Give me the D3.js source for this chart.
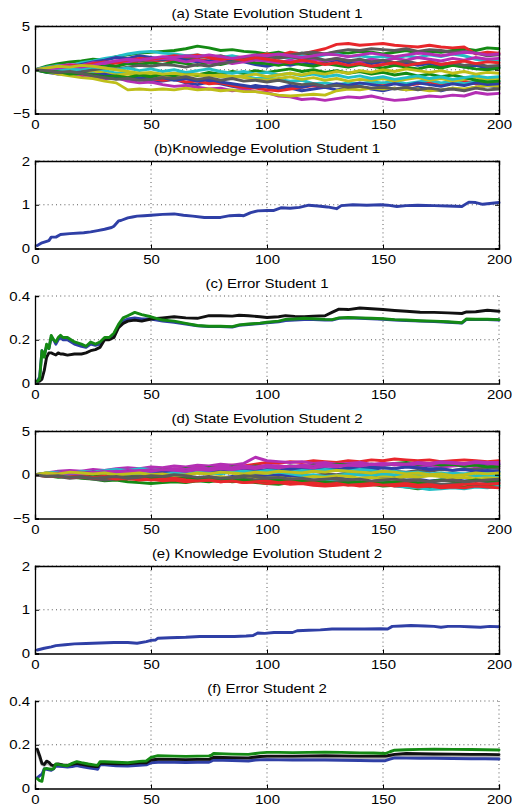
<!DOCTYPE html>
<html>
<head>
<meta charset="utf-8">
<script src="https://cdn.jsdelivr.net/npm/d3@7"></script>
<style>
  body { margin: 0; background: #fff; }
  text { font-family: "Liberation Sans", Arial, Helvetica, sans-serif; fill: #000; }
</style>
</head>
<body>
<svg id="fig" width="512" height="809"></svg>
<script>
// ---- data -------------------------------------------------------------
const titles = [
  "(a) State Evolution Student 1",
  "(b)Knowledge Evolution Student 1",
  "(c) Error Student 1",
  "(d) State Evolution Student 2",
  "(e) Knowledge Evolution Student 2",
  "(f) Error Student 2"
];
const xTicks = [0, 50, 100, 150, 200];
const stateTicks = [-5, 0, 5];
const knowTicks = [0, 1, 2];
const errTicks = [0, 0.2, 0.4];

// state trajectories sampled every 5 iterations (0..200)
const stateSteps = d3.range(0, 201, 5);
const stateColors = ["#2f3fa6", "#148a14", "#e8262b", "#24bfc6", "#b42eb4", "#bfbf1a", "#5a5a5a"];

const stateS1 = [
  [0,-0.3,-0.5,-0.4,-0.8,-0.6,-1.0,-0.9,-1.2,-1.0, -1.4,-1.3,-1.1,-1.5,-1.7,-1.4,-1.6,-1.9,-2.1,-1.8, -2.0,-2.3,-2.1,-2.4,-2.2,-2.0,-2.3,-2.1,-1.9,-2.2, -2.4,-2.1,-2.3,-2.0,-2.2,-2.4,-2.1,-2.3,-2.0,-1.8, -2.0],
  [0,0.4,0.7,0.9,1.0,1.2,1.1,1.5,1.7,1.9, 2.0,2.1,2.2,2.4,2.7,2.5,2.2,2.3,2.1,2.0, 1.8,2.0,1.7,1.9,1.6,1.8,2.0,1.9,2.1,2.0, 1.8,2.0,2.2,1.9,2.1,2.0,2.2,2.4,2.2,2.5, 2.4],
  [0,0.2,0.1,0.4,0.3,0.6,0.5,0.8,0.7,1.0, 0.9,1.1,1.0,1.3,1.2,1.0,1.3,1.5,1.4,1.6, 1.8,1.6,2.0,1.8,2.1,2.4,2.9,3.0,2.8,2.9, 3.0,2.8,2.7,2.6,2.8,2.6,2.5,2.6,1.8,2.0, 1.9],
  [0,0.3,0.5,0.4,0.8,1.0,1.3,1.5,1.8,2.0, 2.1,1.9,1.8,1.6,1.7,1.5,1.4,1.6,1.3,1.4, 1.2,1.5,1.3,1.6,1.4,1.7,1.8,1.5,1.6,1.4, 1.5,1.3,1.6,1.4,1.7,1.5,1.8,1.6,1.2,1.0, 1.1],
  [0,-0.2,-0.4,-0.3,-0.6,-0.8,-1.0,-0.9,-1.3,-1.5, -1.4,-1.7,-1.9,-1.8,-2.0,-2.2,-2.1,-2.4,-2.2,-2.5, -2.6,-3.0,-3.1,-3.4,-3.3,-3.5,-3.3,-3.1,-3.2,-3.0, -3.3,-3.5,-3.4,-3.2,-3.0,-3.1,-2.9,-3.0,-2.6,-2.8, -2.7],
  [0,-0.2,-0.5,-0.7,-0.9,-1.0,-1.3,-1.5,-2.3,-2.2, -2.3,-2.2,-2.3,-2.1,-2.3,-2.2,-2.4,-2.3,-2.5,-2.5, -2.7,-2.9,-3.0,-2.9,-2.8,-2.9,-2.4,-2.2,-2.3,-2.1, -2.2,-2.1,-2.3,-2.2,-2.4,-2.3,-2.1,-2.2,-2.0,-1.8, -1.9],
  [0,0.1,0.3,0.2,0.5,0.7,0.6,0.9,1.1,1.0, 1.2,1.1,1.4,1.3,1.5,1.4,1.6,1.2,1.4,1.3, 1.5,1.4,1.7,1.9,2.0,1.8,2.1,2.3,2.2,2.4, 2.3,2.2,2.4,2.1,2.3,2.2,2.0,2.1,1.9,1.6, 1.7],
  [0,0.2,0.4,0.3,0.6,0.9,1.1,1.4,1.3,1.6, 1.4,1.2,1.3,1.1,0.9,1.0,0.8,1.1,0.9,0.6, 0.4,0.7,0.5,0.8,0.6,0.9,1.1,0.8,1.0,0.7, 0.9,0.6,0.8,0.5,0.7,0.4,0.6,0.3,0.5,0.2, 0.3],
  [0,-0.1,0.2,0.1,0.3,0.2,0.5,0.4,0.7,0.6, 0.8,0.6,0.9,0.7,0.5,0.8,0.6,0.9,1.0,0.8, 0.7,0.5,0.8,0.6,0.4,0.7,0.5,0.3,0.6,0.4, 0.2,0.5,0.3,0.1,0.4,0.2,0.5,0.3,0.1,0.0, 0.2],
  [0,-0.1,-0.3,-0.2,-0.5,-0.4,-0.7,-0.6,-0.9,-0.8, -1.0,-1.2,-1.1,-1.4,-1.3,-1.6,-1.5,-1.8,-2.0,-2.1, -2.3,-2.4,-2.2,-2.0,-1.8,-1.9,-1.7,-1.8,-1.6,-1.5, -1.7,-1.5,-1.8,-1.6,-1.4,-1.7,-1.5,-1.3,-1.6,-1.4, -1.5],
  [0,0.1,-0.1,0.2,0.0,-0.2,-0.1,-0.4,-0.3,-0.5, -0.4,-0.6,-0.5,-0.3,-0.5,-0.7,-0.6,-0.8,-0.7,-1.0, -0.9,-1.1,-1.3,-1.2,-1.6,-1.5,-1.7,-1.5,-1.6,-1.4, -1.5,-1.3,-1.6,-1.4,-1.2,-1.5,-1.3,-1.6,-1.4,-1.2, -1.3],
  [0,0.2,0.4,0.6,0.5,0.8,0.7,1.0,0.9,1.2, 1.1,1.3,1.2,0.9,1.1,0.8,1.0,0.7,0.9,1.1, 1.0,0.8,1.1,0.9,1.2,1.0,1.3,1.1,0.9,1.2, 1.0,1.3,1.1,1.4,1.2,1.0,1.3,1.1,1.4,1.2, 1.3],
  [0,-0.1,0.1,-0.2,-0.3,-0.1,-0.4,-0.6,-0.5,-0.7, -0.6,-0.8,-0.7,-0.5,-0.7,-0.6,-0.8,-0.7,-0.9,-1.1, -1.2,-1.0,-0.8,-1.1,-0.9,-1.2,-1.0,-1.3,-1.1,-1.2, -1.0,-1.3,-1.1,-0.9,-1.2,-1.0,-1.3,-1.1,-0.9,-1.1, -1.0],
  [0,-0.2,-0.1,-0.3,-0.2,0.0,0.2,0.1,0.3,0.5, 0.4,0.6,0.5,0.3,0.6,0.4,0.7,0.9,1.2,1.4, 1.6,1.3,1.5,1.2,1.4,1.1,1.3,1.0,1.2,0.9, 1.1,0.8,1.0,0.7,0.9,0.6,0.8,0.5,0.7,0.4, 0.5],
  [0,-0.2,-0.3,-0.1,-0.4,-0.6,-0.5,-0.8,-1.0,-0.9, -1.1,-0.9,-1.2,-1.0,-1.3,-1.1,-1.4,-1.6,-1.8,-2.0, -1.9,-2.1,-1.8,-2.0,-1.7,-1.9,-1.6,-1.8,-1.5,-1.7, -1.9,-1.6,-1.8,-1.5,-1.7,-1.9,-1.6,-1.8,-1.5,-1.7, -1.6],
  [0,-0.3,-0.2,-0.5,-0.4,-0.6,-0.8,-0.7,-0.9,-0.6, -0.8,-0.5,-0.7,-0.4,-0.6,-0.3,-0.5,-0.2,-0.4,-0.1, -0.3,-0.1,0.1,-0.2,0.0,-0.3,-0.1,-0.4,-0.2,-0.5, -0.3,-0.6,-0.4,-0.7,-0.5,-0.8,-0.6,-0.9,-1.2,-1.4, -1.3],
  [0,0.1,0.3,0.5,0.4,0.7,0.9,0.8,1.1,1.3, 1.2,1.4,1.6,1.5,1.7,1.4,1.2,1.3,1.1,1.4, 1.2,1.0,0.8,1.1,0.9,0.6,0.8,0.5,0.7,0.4, 0.6,0.8,0.5,0.7,0.9,0.6,0.8,1.0,0.7,0.9, 0.8],
  [0,0.2,0.1,-0.1,0.1,0.3,0.2,0.0,0.2,-0.1, 0.1,-0.2,0.0,-0.3,-0.1,0.1,-0.2,-0.4,-0.2,-0.5, -0.3,-0.6,-0.4,-0.7,-0.5,-0.8,-0.6,-0.9,-0.7,-1.0, -0.8,-1.1,-0.9,-0.7,-1.0,-0.8,-1.1,-0.9,-0.7,-0.9, -0.8],
  [0,0.1,0.2,0.4,0.3,0.5,0.8,1.0,1.2,1.1, 1.3,1.5,1.4,1.6,1.5,1.7,1.5,1.3,1.5,1.7, 1.6,1.8,1.6,1.4,1.6,1.8,1.7,1.5,1.7,1.9, 1.7,1.5,1.7,1.9,1.8,1.6,1.8,2.0,1.9,1.7, 1.8],
  [0,0.2,0.4,0.3,0.5,0.4,0.2,0.0,-0.2,-0.4, -0.3,-0.5,-0.4,-0.6,-0.5,-0.7,-0.6,-0.8,-0.7,-0.5, -0.8,-0.6,-0.4,-0.6,-0.3,-0.5,-0.2,-0.4,-0.1,-0.3, 0.0,-0.2,0.1,-0.1,-0.3,-0.1,-0.4,-0.2,-0.5,-0.3, -0.4],
  [0,-0.1,-0.3,-0.2,-0.4,-0.7,-0.9,-1.1,-1.0,-1.2, -1.1,-0.9,-1.0,-0.8,-1.1,-0.9,-1.2,-1.0,-1.3,-1.2, -1.4,-1.2,-1.5,-1.7,-1.6,-1.9,-1.8,-2.0,-1.9,-2.1, -2.0,-2.2,-2.0,-2.3,-2.1,-2.3,-2.2,-2.4,-2.1,-2.3, -2.2]
];

const stateS2 = [
  [0,0.1,0.2,0.1,0.3,0.2,0.4,0.3,0.2,0.4, 0.3,0.5,0.4,0.6,0.5,0.7,0.6,0.5,0.7,0.6, 0.4,0.6,0.5,0.3,0.5,0.4,0.6,0.5,0.7,0.6, 0.8,0.7,0.9,0.8,1.0,0.9,1.1,1.0,1.2,1.1, 1.2],
  [0,-0.1,-0.3,-0.2,-0.4,-0.5,-0.7,-0.6,-0.8,-0.9, -1.0,-0.9,-0.8,-0.9,-0.7,-0.8,-0.6,-0.8,-0.7,-0.9, -1.0,-1.1,-0.9,-1.0,-0.8,-0.9,-1.1,-1.0,-1.2,-1.1, -1.3,-1.2,-1.4,-1.6,-1.5,-1.4,-1.3,-1.4,-1.2,-1.3, -1.2],
  [0,0.1,0.0,0.2,0.3,0.2,0.4,0.5,0.4,0.6, 0.5,0.7,0.6,0.8,0.9,0.8,1.0,1.1,1.0,1.2, 1.4,1.3,1.5,1.4,1.6,1.5,1.4,1.6,1.5,1.7, 1.6,1.8,1.7,1.6,1.7,1.5,1.6,1.7,1.6,1.5, 1.6],
  [0,0.1,-0.1,0.0,-0.2,-0.1,-0.3,-0.2,-0.1,-0.3, -0.2,-0.4,-0.3,-0.5,-0.4,-0.3,-0.5,-0.4,-0.6,-0.5, -0.7,-0.6,-0.5,-0.7,-0.6,-0.8,-0.7,-0.9,-0.8,-0.9, -0.8,-1.3,-1.4,-1.5,-1.7,-1.6,-1.5,-1.6,-1.4,-1.5, -1.3],
  [0,0.2,0.4,0.5,0.4,0.6,0.5,0.7,0.8,0.7, 0.9,0.8,1.0,0.9,1.1,1.0,1.2,1.1,1.3,2.0, 1.6,1.5,1.4,1.5,1.3,1.4,1.2,1.3,1.4,1.2, 1.3,1.1,1.2,1.0,1.1,0.9,1.0,1.1,0.9,1.0, 0.9],
  [0,0.2,0.1,0.0,0.2,0.1,-0.1,0.0,0.1,-0.1, 0.0,0.2,0.1,0.3,0.2,0.1,0.3,0.2,0.0,0.1, -0.1,0.0,0.2,0.1,-0.1,0.0,-0.2,-0.1,0.1,0.0, -0.2,-0.1,0.0,-0.2,-0.1,0.1,-0.1,0.0,-0.2,-0.1, 0.0],
  [0,-0.1,-0.2,-0.4,-0.3,-0.5,-0.6,-0.5,-0.4,-0.5, -0.4,-0.6,-0.5,-0.7,-0.6,-0.4,-0.5,-0.3,-0.4,-0.2, -0.3,-0.1,-0.2,0.0,-0.1,0.1,0.0,0.2,0.1,0.3, 0.2,0.4,0.3,0.5,0.4,0.6,0.5,0.7,0.6,0.8, 0.7],
  [0,-0.1,0.0,-0.2,-0.1,-0.3,-0.2,-0.1,-0.3,-0.2, -0.4,-0.3,-0.2,-0.4,-0.3,-0.5,-0.4,-0.2,-0.3,-0.1, -0.2,0.0,-0.1,-0.3,-0.2,-0.4,-0.3,-0.5,-0.4,-0.3, -0.5,-0.4,-0.6,-0.5,-0.7,-0.6,-0.5,-0.7,-0.6,-0.8, -0.7],
  [0,0.1,0.3,0.2,0.1,0.3,0.2,0.4,0.3,0.5, 0.4,0.6,0.5,0.7,0.6,0.8,0.7,0.9,0.8,1.0, 0.9,0.8,1.0,0.9,1.1,1.0,1.2,1.1,1.0,1.2, 1.1,1.3,1.4,1.2,1.3,1.1,1.2,1.0,1.1,0.9, 1.0],
  [0,-0.2,-0.1,-0.3,-0.2,-0.4,-0.3,-0.5,-0.4,-0.6, -0.5,-0.7,-0.6,-0.8,-0.7,-0.6,-0.8,-0.7,-0.9,-0.8, -1.0,-0.9,-1.1,-1.0,-1.2,-1.3,-1.2,-1.1,-1.3,-1.2, -1.1,-1.3,-1.2,-1.4,-1.3,-1.5,-1.4,-1.5,-1.3,-1.4, -1.5],
  [0,0.2,0.3,0.2,0.4,0.3,0.5,0.6,0.5,0.7, 0.6,0.5,0.4,0.3,0.5,0.4,0.6,0.5,0.3,0.4, 0.2,0.3,0.1,-0.1,0.0,-0.2,-0.1,0.1,0.0,-0.1, 0.1,0.0,0.2,0.1,-0.1,0.0,0.2,0.1,0.3,0.2, 0.3],
  [0,0.1,0.2,0.4,0.3,0.2,0.4,0.3,0.5,0.4, 0.6,0.5,0.7,0.6,0.8,0.7,0.9,0.8,1.0,0.9, 1.1,1.0,0.9,1.1,1.0,1.2,1.1,1.0,1.2,1.1, 1.3,1.2,1.1,1.3,1.2,1.4,1.3,1.2,1.4,1.3, 1.2],
  [0,0.1,-0.1,0.0,-0.1,0.1,0.0,-0.2,-0.1,-0.3, -0.2,-0.1,-0.3,-0.2,-0.4,-0.3,-0.2,-0.4,-0.3,-0.5, -0.4,-0.3,-0.5,-0.4,-0.2,-0.3,-0.1,-0.2,-0.4,-0.3, -0.5,-0.4,-0.2,-0.3,-0.1,-0.2,-0.4,-0.3,-0.5,-0.4, -0.3],
  [0,-0.1,0.1,0.0,0.2,0.1,-0.1,0.0,-0.2,-0.1, -0.3,-0.2,-0.4,-0.3,-0.5,-0.4,-0.6,-0.5,-0.4,-0.6, -0.5,-0.7,-0.6,-0.8,-0.7,-0.9,-0.8,-0.7,-0.9,-0.8, -1.0,-0.9,-0.8,-1.0,-0.9,-1.1,-1.0,-0.9,-1.1,-1.0, -0.9],
  [0,0.1,0.0,0.2,0.1,0.3,0.2,0.1,0.3,0.2, 0.4,0.3,0.2,0.4,0.3,0.5,0.4,0.3,0.5,0.4, 0.6,0.5,0.7,0.6,0.8,0.7,0.6,0.8,0.7,0.9, 0.8,0.7,0.9,0.8,0.6,0.7,0.5,0.6,0.4,0.5, 0.4],
  [0,-0.1,0.0,-0.1,-0.2,-0.1,-0.3,-0.2,-0.4,-0.3, -0.5,-0.4,-0.3,-0.5,-0.4,-0.6,-0.5,-0.7,-0.6,-0.8, -0.7,-0.6,-0.8,-0.7,-0.9,-0.8,-1.0,-0.9,-0.8,-1.0, -0.9,-0.8,-0.7,-0.9,-0.8,-0.6,-0.7,-0.8,-0.6,-0.7, -0.6],
  [0,0.1,-0.1,-0.2,-0.1,-0.3,-0.2,-0.4,-0.5,-0.4, -0.6,-0.5,-0.4,-0.6,-0.7,-0.6,-0.8,-0.7,-0.9,-0.8, -0.7,-0.9,-0.8,-1.0,-0.9,-1.1,-1.0,-1.2,-1.1,-1.0, -1.2,-1.1,-1.0,-1.2,-1.1,-1.3,-1.2,-1.1,-1.0,-1.1, -1.0],
  [0,0.1,0.0,0.1,0.2,0.1,0.3,0.2,0.1,0.2, 0.1,0.0,0.2,0.1,0.3,0.2,0.1,0.3,0.4,0.3, 0.5,0.4,0.3,0.5,0.4,0.6,0.5,0.4,0.6,0.5, 0.3,0.4,0.2,0.3,0.1,0.2,0.0,0.1,-0.1,0.0, -0.1],
  [0,0.0,0.1,0.2,0.1,0.3,0.2,0.4,0.3,0.5, 0.4,0.6,0.5,0.4,0.6,0.5,0.7,0.6,0.8,0.7, 0.9,0.8,1.0,0.9,0.8,1.0,0.9,1.1,1.0,1.2, 1.1,1.3,1.2,1.4,1.3,1.5,1.4,1.3,1.5,1.4, 1.4],
  [0,0.2,0.1,0.3,0.2,0.1,0.2,0.0,0.1,0.2, 0.0,0.1,-0.1,0.0,0.2,0.1,0.3,0.2,0.1,0.3, 0.2,0.4,0.3,0.2,0.4,0.3,0.5,0.4,0.3,0.2, 0.4,0.3,0.1,0.2,0.0,0.1,-0.1,0.0,0.2,0.1, 0.2],
  [0,-0.2,-0.1,-0.3,-0.2,-0.4,-0.3,-0.2,-0.4,-0.3, -0.1,-0.2,0.0,-0.1,-0.3,-0.2,-0.4,-0.3,-0.1,-0.2, -0.4,-0.3,-0.5,-0.4,-0.6,-0.5,-0.4,-0.6,-0.5,-0.7, -0.6,-0.5,-0.7,-0.6,-0.8,-0.7,-0.6,-0.8,-0.7,-0.6, -0.5]
];

// knowledge level
const knowIterS1 = [1,3,6,7,9,11,15,21,24,27, 30,33,34,36,37,40,42,44,47,50, 55,60,64,68,73,80,84,88,90,93, 96,100,103,106,110,114,118,122,126,130, 132,137,143,149,152,156,160,165,172,178, 184,187,190,193,196,200];
const knowS1 = [0.07,0.13,0.18,0.26,0.26,0.32,0.34,0.36,0.38,0.41, 0.44,0.48,0.51,0.63,0.64,0.70,0.72,0.74,0.75,0.76, 0.78,0.79,0.76,0.74,0.71,0.71,0.75,0.76,0.75,0.82, 0.86,0.87,0.87,0.93,0.92,0.94,0.99,0.97,0.95,0.91, 0.98,1.0,0.99,1.0,0.99,0.96,0.98,0.99,0.98,0.97, 0.96,1.06,1.05,1.01,1.03,1.05];
const knowIterS2 = [1,4,7,9,13,17,22,28,34,40, 44,48,50,52,53,58,65,71,78,86, 91,94,96,99,103,108,111,113,118,123, 128,135,142,149,152,154,158,162,168,172, 175,178,183,187,192,196,200];
const knowS2 = [0.08,0.12,0.15,0.18,0.2,0.22,0.23,0.24,0.25,0.25, 0.235,0.27,0.30,0.31,0.35,0.36,0.37,0.39,0.39,0.39, 0.40,0.41,0.47,0.46,0.48,0.48,0.48,0.52,0.53,0.54, 0.56,0.56,0.56,0.565,0.56,0.62,0.63,0.64,0.63,0.62, 0.60,0.62,0.62,0.61,0.60,0.62,0.61];

// estimation errors, student 1
const errIterS1 = [1,2,3,4,5,6,7,8,9,10,11,12, 14,17,20,22,24,26,28,30,32,34,36,38,40,43,46,50, 55,60,65,70,75,80,85,88,92,97,100, 105,108,112,116,120,125,128,131,135,140,145,150, 155,160,166,172,178,184,186,190,195,200];
const errBlueS1 = [0.01,0.03,0.15,0.13,0.17,0.16,0.21,0.20,0.18,0.20,0.21,0.20, 0.20,0.18,0.17,0.165,0.18,0.175,0.18,0.205,0.205,0.225,0.26,0.285,0.295,0.30,0.295,0.295, 0.285,0.28,0.272,0.264,0.26,0.26,0.258,0.266,0.27,0.274,0.278, 0.282,0.288,0.29,0.292,0.292,0.29,0.29,0.298,0.30,0.298,0.296,0.294, 0.29,0.288,0.285,0.283,0.28,0.276,0.293,0.292,0.292,0.29];
const errBlackS1 = [0.01,0.01,0.02,0.06,0.12,0.14,0.14,0.135,0.13,0.14,0.135,0.135, 0.13,0.135,0.135,0.14,0.15,0.155,0.165,0.20,0.20,0.21,0.255,0.275,0.285,0.29,0.285,0.295, 0.30,0.305,0.30,0.298,0.31,0.31,0.308,0.312,0.31,0.305,0.302, 0.305,0.31,0.307,0.305,0.308,0.31,0.325,0.34,0.338,0.345,0.342,0.338, 0.334,0.33,0.326,0.325,0.323,0.32,0.327,0.328,0.335,0.33];
const errGreenS1 = [0.01,0.02,0.15,0.12,0.18,0.16,0.22,0.20,0.19,0.21,0.22,0.21, 0.21,0.19,0.18,0.17,0.19,0.18,0.19,0.21,0.21,0.23,0.27,0.30,0.31,0.325,0.315,0.305, 0.29,0.285,0.275,0.265,0.262,0.262,0.26,0.268,0.272,0.276,0.28, 0.285,0.293,0.295,0.298,0.296,0.293,0.292,0.30,0.302,0.30,0.298,0.296, 0.292,0.29,0.287,0.285,0.282,0.278,0.295,0.294,0.294,0.292];

// estimation errors, student 2
const errIterS2 = [1,2,3,4,5,6,7,8,9,10, 12,14,16,18,20,23,26,27,28,30, 35,40,45,48,50,53,60,65,70,75, 76,77,85,92,95,97,100,105,111,118, 125,132,140,146,151,153,155,160,166,172, 180,188,194,200];
const errGreyS2 = [0.17,0.14,0.11,0.105,0.115,0.112,0.104,0.1,0.106,0.107, 0.104,0.102,0.106,0.11,0.106,0.1,0.096,0.095,0.111,0.111, 0.109,0.108,0.112,0.113,0.125,0.128,0.127,0.126,0.127,0.127, 0.132,0.137,0.135,0.134,0.138,0.14,0.141,0.141,0.14,0.141, 0.142,0.141,0.14,0.139,0.139,0.143,0.148,0.149,0.149,0.148, 0.148,0.147,0.147,0.146];
const errBlueS2 = [0.05,0.058,0.065,0.09,0.088,0.085,0.083,0.09,0.103,0.102, 0.1,0.098,0.1,0.105,0.1,0.095,0.09,0.088,0.108,0.108, 0.104,0.103,0.106,0.108,0.118,0.12,0.12,0.119,0.12,0.12, 0.125,0.13,0.128,0.126,0.13,0.131,0.132,0.131,0.13,0.131, 0.13,0.129,0.128,0.127,0.127,0.134,0.14,0.139,0.138,0.138, 0.137,0.136,0.136,0.135];
const errBlackS2 = [0.18,0.15,0.115,0.11,0.125,0.12,0.108,0.104,0.11,0.112, 0.108,0.106,0.11,0.115,0.11,0.105,0.1,0.1,0.115,0.115, 0.113,0.113,0.117,0.118,0.13,0.134,0.133,0.132,0.133,0.133, 0.138,0.143,0.141,0.14,0.144,0.146,0.148,0.148,0.148,0.149, 0.15,0.149,0.148,0.148,0.148,0.152,0.156,0.16,0.159,0.158, 0.157,0.156,0.156,0.155];
const errGreenS2 = [0.045,0.036,0.033,0.09,0.092,0.09,0.088,0.09,0.112,0.11, 0.106,0.104,0.115,0.123,0.118,0.112,0.107,0.106,0.122,0.122, 0.12,0.118,0.124,0.126,0.142,0.15,0.148,0.147,0.148,0.149, 0.152,0.16,0.157,0.156,0.16,0.163,0.165,0.165,0.164,0.165, 0.166,0.165,0.163,0.162,0.16,0.168,0.175,0.177,0.179,0.18, 0.179,0.178,0.177,0.176];

// ---- layout -----------------------------------------------------------
const BLUE = "#2f3fa6", GREEN = "#148a14", BLACK = "#111111", LIGHTGREY = "#b4b4b4";
const svg = d3.select("#fig");
const L = 35, R = 499, H = 87.5;
const tops = [26, 161, 296, 431, 566, 701];
const x = d3.scaleLinear().domain([0, 200]).range([L, R]);
const fmt = d3.format("~g");

function series(xs, ys, color) {
  return { pts: xs.map((v, i) => [v, ys[i]]), color };
}

function panel(idx, yDomain, yTicks, lines, boxed) {
  const top = tops[idx], bottom = top + H;
  const y = d3.scaleLinear().domain(yDomain).range([bottom, top]);
  const g = svg.append("g");

  // dotted grid
  const grid = g.append("g")
    .attr("stroke", "#333").attr("stroke-width", 1).attr("stroke-dasharray", "1,3.2").attr("opacity", 0.8);
  grid.selectAll(".gx").data(xTicks.slice(1)).join("line").attr("class", "gx")
    .attr("x1", d => x(d)).attr("x2", d => x(d)).attr("y1", top).attr("y2", bottom);
  grid.selectAll(".gy").data(yTicks.slice(1)).join("line").attr("class", "gy")
    .attr("x1", L).attr("x2", R).attr("y1", d => y(d)).attr("y2", d => y(d));

  const clipId = "clip" + idx;
  g.append("clipPath").attr("id", clipId).append("rect")
    .attr("x", L).attr("y", top - 2).attr("width", R - L + 2).attr("height", H + 4);

  const line = d3.line().x(d => x(d[0])).y(d => y(d[1]));
  g.append("g").attr("clip-path", `url(#${clipId})`)
    .selectAll("path").data(lines).join("path")
    .attr("fill", "none")
    .attr("stroke", d => d.color)
    .attr("stroke-width", 2.9)
    .attr("stroke-linejoin", "round")
    .attr("stroke-linecap", "round")
    .attr("d", d => line(d.pts));

  const axStyle = sel => {
    sel.selectAll(".domain").attr("stroke", "#000").attr("stroke-width", 1.3);
    sel.selectAll(".tick line").attr("stroke", "#000").attr("stroke-width", 1);
    sel.selectAll("text").attr("font-size", 13).attr("font-family", null);
  };

  g.append("g").attr("transform", `translate(0,${bottom})`)
    .call(d3.axisBottom(x).tickValues(xTicks).tickSize(-4).tickPadding(6).tickFormat(fmt))
    .call(axStyle);
  g.append("g").attr("transform", `translate(${L},0)`)
    .call(d3.axisLeft(y).tickValues(yTicks).tickSize(-4).tickPadding(5).tickFormat(fmt))
    .call(axStyle);
  if (boxed) {
    g.append("g").attr("transform", `translate(0,${top})`)
      .call(d3.axisTop(x).tickValues(xTicks).tickSize(-4).tickFormat(""))
      .call(axStyle);
    g.append("g").attr("transform", `translate(${R},0)`)
      .call(d3.axisRight(y).tickValues(yTicks).tickSize(-4).tickFormat(""))
      .call(axStyle);
  }

  g.append("text")
    .attr("x", (L + R) / 2).attr("y", top - 8.5)
    .attr("text-anchor", "middle").attr("font-size", 13)
    .text(titles[idx]);
}

const stateLines = rows => rows.map((r, i) => series(stateSteps, r, stateColors[i % stateColors.length]));

panel(0, [-5, 5], stateTicks, stateLines(stateS1), true);
panel(1, [0, 2], knowTicks, [series(knowIterS1, knowS1, BLUE)], true);
panel(2, [0, 0.4], errTicks, [
  series(errIterS1, errBlueS1, BLUE),
  series(errIterS1, errBlackS1, BLACK),
  series(errIterS1, errGreenS1, GREEN)
], false);
panel(3, [-5, 5], stateTicks, stateLines(stateS2), true);
panel(4, [0, 2], knowTicks, [series(knowIterS2, knowS2, BLUE)], true);
panel(5, [0, 0.4], errTicks, [
  series(errIterS2, errGreyS2, LIGHTGREY),
  series(errIterS2, errBlueS2, BLUE),
  series(errIterS2, errBlackS2, BLACK),
  series(errIterS2, errGreenS2, GREEN)
], false);

// widen the lettering slightly, as in the printed figure
svg.selectAll("text").each(function () {
  const w = this.getComputedTextLength();
  if (w > 0) d3.select(this).attr("textLength", w * 1.15).attr("lengthAdjust", "spacingAndGlyphs");
});
</script>
</body>
</html>
